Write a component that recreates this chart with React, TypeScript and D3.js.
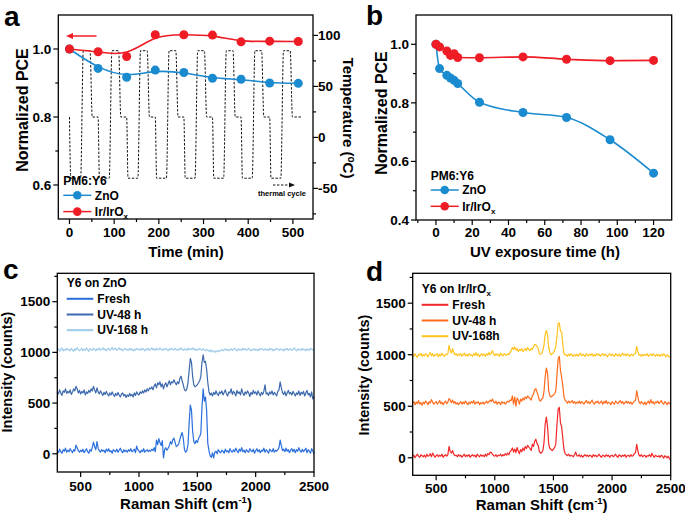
import React from "react";
import * as d3 from "d3";

const FONT = '"Liberation Sans", Arial, Helvetica, sans-serif';
const BLUE = "#1b8bd0";
const RED = "#ee1c25";

// ---------- Panel a ----------
const timeA = [0, 64, 128, 192, 256, 320, 384, 448, 512];
const pceZnOA = [1.0, 0.943, 0.917, 0.938, 0.931, 0.914, 0.911, 0.9, 0.899];
const pceIrA = [1.0, 0.992, 0.978, 1.042, 1.042, 1.041, 1.021, 1.023, 1.022];
const thermalTime = [
  0, 3, 25, 31, 46, 51,
  64, 67, 89, 95, 110, 115,
  128, 131, 153, 159, 174, 179,
  192, 195, 217, 223, 238, 243,
  256, 259, 281, 287, 302, 307,
  320, 323, 345, 351, 366, 371,
  384, 387, 409, 415, 430, 435,
  448, 451, 473, 479, 494, 499,
  518,
];
const thermalTemp = [
  20, -40, -40, 85, 85, 20,
  20, -40, -40, 85, 85, 20,
  20, -40, -40, 85, 85, 20,
  20, -40, -40, 85, 85, 20,
  20, -40, -40, 85, 85, 20,
  20, -40, -40, 85, 85, 20,
  20, -40, -40, 85, 85, 20,
  20, -40, -40, 85, 85, 20,
  20,
];
const ticksAX = [0, 100, 200, 300, 400, 500];
const ticksAY = [0.6, 0.8, 1.0];
const ticksAT = [-50, 0, 50, 100];

// ---------- Panel b ----------
const timeB = [0, 2, 6, 8, 10, 12, 24, 48, 72, 96, 120];
const pceZnOB = [1.0, 0.917, 0.894, 0.885, 0.877, 0.866, 0.802, 0.767, 0.75, 0.674, 0.56];
const pceIrB = [1.0, 0.991, 0.977, 0.962, 0.968, 0.955, 0.954, 0.957, 0.949, 0.944, 0.945];
const ticksBX = [0, 20, 40, 60, 80, 100, 120];
const ticksBY = [0.4, 0.6, 0.8, 1.0];

// ---------- Panels c, d (Raman, sampled every 10 cm-1 from 300 to 2500) ----------
const ramanShift = d3.range(300, 2501, 10);
const ticksRX = [500, 1000, 1500, 2000, 2500];
const ticksRY = [0, 500, 1000, 1500];

const cFresh = [
  30, 10, 45, 20, 5, 40, 25, 55, 15, 35,
  20, 50, 30, 10, 40, 25, 85, 60, 30, 15,
  35, 20, 45, 10, 30, 50, 20, 5, 40, 25,
  60, 115, 70, 40, 120, 55, 30, 15, 40, 25,
  35, 10, 45, 25, 50, 20, 30, 5, 40, 30,
  20, 45, 15, 35, 55, 25, 10, 40, 20, 35,
  15, 40, 25, 50, 20, 30, 45, 10, 75, 40,
  25, 10, 35, 20, 50, 15, 30, 40, 20, 35,
  25, 45, 30, 60, 20, 135, 90, 150, 110, 80,
  130, -40, 40, 60, 35, 55, 80, 120, 95, 140,
  155, 110, 70, 80, 95, 140, 180, 210, 150, 40,
  15, 30, 90, 300, 480, 430, 220, 120, 100, 130,
  110, 150, 170, 200, 460, 640, 520, 560, 420, 100,
  30, -20, -35, 10, -40, 15, 25, 0, 40, 20,
  10, 35, 25, 5, 45, 20, 30, 10, 50, 25,
  15, 40, 20, 55, 30, 10, 45, 25, 60, 20,
  35, 10, 40, 25, 15, 50, 30, 20, 45, 5,
  30, 50, 20, 40, 10, 35, 25, 55, 15, 40,
  25, 5, 45, 30, 20, 50, 15, 35, 25, 40,
  60, 135, 80, 30, 45, 20, 55, 25, 40, 10,
  35, 50, 20, 45, 10, 40, 25, 60, 30, 15,
  45, 20, 35, 55, 10, 40, 25, 5, 50, 30,
  0,
];
const cUV48 = [
  610, 590, 630, 600, 575, 620, 605, 640, 595, 615,
  600, 630, 585, 610, 640, 620, 665, 640, 600, 625,
  590, 615, 600, 630, 580, 610, 595, 625, 605, 640,
  620, 665, 630, 600, 650, 610, 590, 620, 600, 575,
  605, 585, 615, 590, 570, 600, 580, 610, 585, 565,
  595, 575, 605, 580, 560, 590, 600, 570, 585, 555,
  580, 565, 595, 570, 585, 560, 600, 575, 610, 590,
  580, 610, 595, 620, 600, 630, 610, 640, 620, 650,
  640, 660, 630, 670, 690, 650, 700, 680, 710, 660,
  690, 640, 680, 700, 660, 690, 720, 680, 710, 700,
  730, 700, 680, 710, 690, 740, 765, 720, 680, 630,
  620, 640, 700, 820, 940, 900, 760, 680, 660, 670,
  680, 700, 720, 760, 900, 975, 900, 910, 830, 700,
  610, 580, 600, 570, 605, 585, 620, 590, 575, 610,
  595, 620, 580, 605, 630, 590, 570, 610, 600, 640,
  585, 615, 600, 570, 625, 595, 610, 580, 640, 600,
  575, 610, 590, 620, 600, 565, 605, 585, 625, 595,
  610, 580, 620, 595, 570, 605, 585, 615, 680, 590,
  600, 575, 610, 590, 620, 580, 605, 590, 570, 615,
  630, 710, 650, 600, 585, 615, 570, 600, 625, 590,
  605, 580, 615, 595, 570, 600, 585, 620, 575, 605,
  590, 615, 570, 600, 625, 580, 595, 560, 610, 540,
  560,
];
const cUV168 = [
  1020, 1035, 1010, 1030, 1045, 1015, 1030, 1020, 1040, 1025,
  1030, 1015, 1040, 1025, 1010, 1035, 1020, 1045, 1030, 1015,
  1025, 1040, 1015, 1030, 1020, 1045, 1025, 1010, 1035, 1030,
  1020, 1040, 1030, 1015, 1035, 1025, 1040, 1020, 1030, 1045,
  1025, 1035, 1015, 1030, 1040, 1020, 1030, 1050, 1025, 1035,
  1040, 1020, 1030, 1045, 1025, 1035, 1015, 1030, 1040, 1025,
  1030, 1020, 1040, 1025, 1035, 1015, 1030, 1020, 1040, 1030,
  1025, 1035, 1020, 1040, 1030, 1015, 1035, 1025, 1040, 1020,
  1030, 1045, 1025, 1035, 1020, 1040, 1030, 1025, 1045, 1030,
  1020, 1035, 1025, 1040, 1030, 1015, 1035, 1025, 1040, 1030,
  1025, 1040, 1030, 1020, 1035, 1025, 1045, 1030, 1020, 1035,
  1030, 1020, 1040, 1025, 1035, 1030, 1045, 1025, 1035, 1020,
  1030, 1025, 1040, 1030, 1020, 1035, 1025, 1015, 1030, 1020,
  1010, 1025, 1005, 1020, 1010, 1000, 1015, 1005, 1020, 1010,
  1020, 1030, 1015, 1025, 1035, 1020, 1030, 1015, 1025, 1035,
  1020, 1030, 1040, 1025, 1015, 1035, 1025, 1030, 1020, 1040,
  1025, 1035, 1020, 1030, 1040, 1025, 1015, 1030, 1025, 1035,
  1020, 1030, 1015, 1035, 1025, 1040, 1030, 1020, 1035, 1025,
  1030, 1020, 1040, 1025, 1035, 1015, 1030, 1025, 1040, 1030,
  1020, 1035, 1025, 1030, 1015, 1035, 1025, 1040, 1020, 1030,
  1035, 1020, 1030, 1045, 1025, 1015, 1035, 1025, 1030, 1020,
  1040, 1025, 1030, 1015, 1035, 1025, 1020, 1040, 1030, 1025,
  1030,
];
const dFresh = [
  10, 25, 0, 20, 35, 15, 5, 30, 20, 10,
  25, 5, 35, 15, 20, 40, 10, 45, 25, 5,
  20, 30, 10, 25, 15, 35, 5, 20, 30, 15,
  30, 110, 60, 45, 70, 35, 20, 25, 10, 30,
  15, 25, 5, 20, 35, 10, 25, 15, 30, 5,
  20, 30, 15, 25, 5, 35, 20, 10, 30, 15,
  25, 10, 35, 15, 40, 30, 55, 50, 35, 20,
  15, 30, 10, 25, 20, 35, 15, 30, 20, 40,
  25, 45, 30, 60, 70, 95, 55, 85, 50, 100,
  65, 40, 80, 60, 95, 70, 110, 90, 120, 105,
  90, 70, 130, 110, 160, 180, 140, 120, 60, 45,
  50, 70, 150, 330, 395, 300, 130, 90, 80, 70,
  85, 100, 130, 320, 470, 490, 340, 300, 190, 80,
  40, 30, 20, 35, 15, 25, 20, 10, 30, 55,
  20, 15, 30, 10, 25, 5, 20, 30, 15, 25,
  10, 25, 20, 5, 30, 15, 25, 10, 20, 35,
  15, 5, 25, 20, 10, 30, 15, 25, 5, 20,
  25, 10, 20, 35, 15, 5, 30, 20, 10, 25,
  15, 30, 5, 20, 25, 10, 30, 15, 20, 40,
  50, 130, 70, 25, 15, 30, 10, 20, 25, 5,
  20, 15, 30, 10, 45, 20, 5, 25, 15, 10,
  20, 5, 25, 15, -5, 20, 10, 0, 15, -10,
  -25,
];
const dUV48 = [
  530, 545, 515, 540, 525, 555, 520, 535, 510, 540,
  525, 550, 535, 515, 545, 530, 565, 540, 520, 535,
  545, 520, 535, 555, 525, 540, 515, 535, 550, 525,
  540, 575, 560, 535, 560, 530, 545, 520, 535, 515,
  530, 545, 520, 540, 525, 550, 530, 515, 540, 525,
  545, 530, 555, 520, 540, 530, 545, 515, 535, 525,
  540, 520, 535, 550, 530, 545, 560, 545, 570, 540,
  530, 550, 520, 540, 535, 515, 545, 530, 540, 520,
  535, 550, 540, 560, 555, 600, 520, 590, 500, 580,
  560, 520, 570, 550, 580, 560, 590, 575, 600, 585,
  575, 560, 600, 620, 660, 670, 640, 600, 560, 550,
  570, 580, 650, 790, 870, 820, 650, 600, 590, 600,
  610, 620, 650, 800, 960, 985, 850, 780, 700, 590,
  560, 545, 530, 550, 535, 540, 555, 530, 545, 525,
  540, 530, 550, 525, 545, 535, 520, 540, 555, 530,
  545, 525, 540, 560, 530, 520, 545, 535, 550, 525,
  535, 550, 520, 545, 530, 555, 525, 540, 530, 515,
  545, 530, 520, 550, 535, 525, 540, 555, 530, 545,
  520, 535, 550, 530, 545, 525, 540, 520, 535, 550,
  560, 650, 590, 540, 525, 545, 530, 520, 540, 515,
  535, 550, 525, 565, 530, 545, 520, 540, 535, 550,
  525, 540, 555, 530, 520, 545, 535, 515, 540, 525,
  530,
];
const dUV168 = [
  1000, 985, 1010, 990, 975, 1005, 995, 1015, 985, 1000,
  990, 1010, 995, 980, 1005, 1020, 990, 1010, 985, 1000,
  995, 1010, 980, 1005, 990, 1015, 995, 985, 1005, 1000,
  1010, 1090, 1040, 1015, 1060, 1020, 1000, 1010, 990, 1005,
  995, 1010, 985, 1000, 1015, 990, 1005, 985, 1010, 995,
  1000, 985, 1010, 995, 1020, 990, 1005, 980, 1000, 1010,
  990, 1005, 985, 1010, 995, 1020, 1000, 1015, 1040, 1005,
  990, 1010, 995, 1005, 985, 1015, 1000, 990, 1010, 1000,
  995, 1010, 1000, 1020, 1040, 1070, 1050, 1075, 1045, 1060,
  1030, 1050, 1040, 1060, 1030, 1045, 1060, 1040, 1070, 1050,
  1040, 1060, 1050, 1080, 1100, 1095, 1080, 1060, 1010, 1005,
  1010, 1040, 1100, 1200, 1235, 1190, 1070, 1020, 1000, 1010,
  1020, 1040, 1080, 1180, 1300, 1310, 1230, 1220, 1100, 1010,
  995, 1000, 985, 1005, 990, 1010, 995, 985, 1000, 990,
  1005, 985, 1000, 1015, 990, 1005, 995, 985, 1010, 1000,
  990, 1005, 995, 1010, 985, 1000, 990, 1010, 995, 1005,
  985, 1000, 1010, 990, 1005, 995, 980, 1000, 1010, 990,
  1005, 995, 985, 1010, 1000, 990, 1005, 985, 1000, 1015,
  995, 1005, 990, 1010, 995, 985, 1005, 1000, 990, 1010,
  1015, 1080, 1030, 995, 1000, 985, 1005, 990, 1000, 995,
  1010, 985, 1000, 1005, 990, 1010, 995, 985, 1005, 990,
  1000, 985, 1005, 990, 1010, 995, 980, 1000, 990, 975,
  985,
];

const cLabels = ["Fresh", "UV-48 h", "UV-168 h"];
const cColors = ["#2a6fdc", "#3c68ad", "#9dcbe9"];
const dLabels = ["Fresh", "UV-48 h", "UV-168h"];
const dColors = ["#f3282a", "#ff6b1c", "#ffc31c"];

const TICK_FS = 13.5;
const TITLE_FS = 15;

type Scale = d3.ScaleLinear<number, number>;

function BottomAxis({ scale, y, major, minor, fmt, dy = 18 }: { scale: Scale; y: number; major: number[]; minor: number[]; fmt: (v: number) => string; dy?: number }) {
  return (
    <g>
      {minor.map((v) => (
        <line key={"m" + v} x1={scale(v)} x2={scale(v)} y1={y} y2={y + 3} stroke="#000" strokeWidth={1.2} />
      ))}
      {major.map((v) => (
        <g key={"M" + v}>
          <line x1={scale(v)} x2={scale(v)} y1={y} y2={y + 5} stroke="#000" strokeWidth={1.2} />
          <text x={scale(v)} y={y + dy} textAnchor="middle" fontSize={TICK_FS} fontWeight="bold">
            {fmt(v)}
          </text>
        </g>
      ))}
    </g>
  );
}

function LeftAxis({ scale, x, major, minor, fmt }: { scale: Scale; x: number; major: number[]; minor: number[]; fmt: (v: number) => string }) {
  return (
    <g>
      {minor.map((v) => (
        <line key={"m" + v} x1={x - 3} x2={x} y1={scale(v)} y2={scale(v)} stroke="#000" strokeWidth={1.2} />
      ))}
      {major.map((v) => (
        <g key={"M" + v}>
          <line x1={x - 5} x2={x} y1={scale(v)} y2={scale(v)} stroke="#000" strokeWidth={1.2} />
          <text x={x - 7} y={scale(v) + 4.8} textAnchor="end" fontSize={TICK_FS} fontWeight="bold">
            {fmt(v)}
          </text>
        </g>
      ))}
    </g>
  );
}

function RightAxis({ scale, x, major, minor, fmt }: { scale: Scale; x: number; major: number[]; minor: number[]; fmt: (v: number) => string }) {
  return (
    <g>
      {minor.map((v) => (
        <line key={"m" + v} x1={x} x2={x + 3} y1={scale(v)} y2={scale(v)} stroke="#000" strokeWidth={1.2} />
      ))}
      {major.map((v) => (
        <g key={"M" + v}>
          <line x1={x} x2={x + 5} y1={scale(v)} y2={scale(v)} stroke="#000" strokeWidth={1.2} />
          <text x={x + 5} y={scale(v) + 4.8} textAnchor="start" fontSize={TICK_FS} fontWeight="bold">
            {fmt(v)}
          </text>
        </g>
      ))}
    </g>
  );
}

function Frame({ x0, x1, y0, y1 }: { x0: number; x1: number; y0: number; y1: number }) {
  return <rect x={x0} y={y0} width={x1 - x0} height={y1 - y0} fill="none" stroke="#000" strokeWidth={1.3} />;
}

function PceLegend({ x, y0 }: { x: number; y0: number }) {
  const rows = [
    { c: BLUE, label: <tspan>ZnO</tspan> },
    {
      c: RED,
      label: (
        <>
          <tspan>Ir/IrO</tspan>
          <tspan fontSize={8} dy={3}>x</tspan>
        </>
      ),
    },
  ];
  return (
    <g fontWeight="bold" fontSize={12}>
      <text x={x} y={y0}>PM6:Y6</text>
      {rows.map((r, i) => {
        const cy = y0 + 10 + i * 16.3;
        return (
          <g key={i}>
            <line x1={x} x2={x + 28} y1={cy} y2={cy} stroke={r.c} strokeWidth={1.5} />
            <circle cx={x + 14} cy={cy} r={4.3} fill={r.c} />
            <text x={x + 31.5} y={cy + 4.3}>{r.label}</text>
          </g>
        );
      })}
    </g>
  );
}

function RamanLegend({ x, y0, title, labels, colors }: { x: number; y0: number; title: React.ReactNode; labels: string[]; colors: string[] }) {
  return (
    <g fontWeight="bold" fontSize={12}>
      <text x={x} y={y0}>{title}</text>
      {labels.map((l, i) => {
        const cy = y0 + 11.5 + i * 15.7;
        return (
          <g key={l}>
            <line x1={x} x2={x + 26.6} y1={cy} y2={cy} stroke={colors[i]} strokeWidth={2} />
            <text x={x + 30.6} y={cy + 4.2}>{l}</text>
          </g>
        );
      })}
    </g>
  );
}

export default function App() {
  const axX = d3.scaleLinear().domain([-25, 545]).range([58.3, 313]);
  const axY = d3.scaleLinear().domain([0.5, 1.1]).range([219, 15]);
  const axT = d3.scaleLinear().domain([-80, 120]).range([219, 15]);
  const lineA = (vals: number[]) =>
    d3
      .line<number>()
      .x((_, i) => axX(timeA[i]))
      .y((v) => axY(v))
      .curve(d3.curveBasis)(vals) as string;
  const thermalPath = d3
    .line<number>()
    .x((_, i) => axX(thermalTime[i]))
    .y((v) => axT(v))
    .curve(d3.curveMonotoneX)(thermalTemp) as string;

  const bxX = d3.scaleLinear().domain([-11, 130]).range([416, 671.7]);
  const bxY = d3.scaleLinear().domain([0.4, 1.1]).range([220, 15]);
  const lineB = (vals: number[]) =>
    d3
      .line<number>()
      .x((_, i) => bxX(timeB[i]))
      .y((v) => bxY(v))
      .curve(d3.curveMonotoneX)(vals) as string;

  const cxX = d3.scaleLinear().domain([300, 2500]).range([57.3, 314]);
  const cxY = d3.scaleLinear().domain([-180, 1780]).range([472, 273.3]);
  const dxX = d3.scaleLinear().domain([300, 2500]).range([412.7, 670.7]);
  const dxY = d3.scaleLinear().domain([-170, 1790]).range([475.3, 273.3]);
  const spec = (sx: Scale, sy: Scale, vals: number[]) =>
    d3
      .line<number>()
      .x((_, i) => sx(ramanShift[i]))
      .y((v) => sy(v))(vals) as string;

  const fmt1 = (v: number) => v.toFixed(1);
  const fmt0 = (v: number) => String(v);

  return (
    <svg
      width={685}
      height={521}
      viewBox="0 0 685 521"
      style={{ position: "absolute", left: 0, top: 0, background: "#fff" }}
      fontFamily={FONT}
    >
      <rect x={0} y={0} width={685} height={521} fill="#fff" />

      {/* ================= Panel a ================= */}
      <text x={4} y={25.5} fontSize={28} fontWeight="bold">a</text>
      <path d={thermalPath} fill="none" stroke="#111" strokeWidth={1} strokeDasharray="2.4,1.6" />
      <path d={lineA(pceZnOA)} fill="none" stroke={BLUE} strokeWidth={1.6} />
      <path d={lineA(pceIrA)} fill="none" stroke={RED} strokeWidth={1.6} />
      {timeA.map((t, i) => (
        <circle key={"az" + i} cx={axX(t)} cy={axY(pceZnOA[i])} r={4.5} fill={BLUE} />
      ))}
      {timeA.map((t, i) => (
        <circle key={"ai" + i} cx={axX(t)} cy={axY(pceIrA[i])} r={4.5} fill={RED} />
      ))}
      <line x1={71} x2={96.5} y1={36} y2={36} stroke={RED} strokeWidth={1.5} />
      <polygon points="66,36 73,33 73,39" fill={RED} />
      <line x1={273} x2={289} y1={185} y2={185} stroke="#111" strokeWidth={1} strokeDasharray="2.4,1.6" />
      <polygon points="295,185 289,182.5 289,187.5" fill="#111" />
      <text x={282} y={195.5} textAnchor="middle" fontSize={7.5} fontWeight="bold">thermal cycle</text>
      <PceLegend x={63.3} y0={185.3} />
      <Frame x0={58.3} x1={313} y0={15} y1={219} />
      <BottomAxis scale={axX} y={219} major={ticksAX} minor={[50, 150, 250, 350, 450]} fmt={fmt0} />
      <LeftAxis scale={axY} x={58.3} major={ticksAY} minor={[0.7, 0.9]} fmt={fmt1} />
      <RightAxis scale={axT} x={313} major={ticksAT} minor={[-75, -25, 25, 75]} fmt={fmt0} />
      <text x={186} y={257} textAnchor="middle" fontSize={TITLE_FS} fontWeight="bold">Time (min)</text>
      <text transform="translate(28.3,110) rotate(-90)" textAnchor="middle" fontSize={16} fontWeight="bold">
        Normalized PCE
      </text>
      <text transform="translate(342.5,118) rotate(90)" textAnchor="middle" fontSize={TITLE_FS} fontWeight="bold">
        <tspan>Temperature (</tspan>
        <tspan fontSize={10} dy={-5}>o</tspan>
        <tspan dy={5}>C)</tspan>
      </text>

      {/* ================= Panel b ================= */}
      <text x={366} y={25} fontSize={28} fontWeight="bold">b</text>
      <path d={lineB(pceZnOB)} fill="none" stroke={BLUE} strokeWidth={1.6} />
      <path d={lineB(pceIrB)} fill="none" stroke={RED} strokeWidth={1.6} />
      {timeB.map((t, i) => (
        <circle key={"bz" + i} cx={bxX(t)} cy={bxY(pceZnOB[i])} r={4.5} fill={BLUE} />
      ))}
      {timeB.map((t, i) => (
        <circle key={"bi" + i} cx={bxX(t)} cy={bxY(pceIrB[i])} r={4.5} fill={RED} />
      ))}
      <PceLegend x={430.7} y0={180} />
      <Frame x0={416} x1={671.7} y0={15} y1={220} />
      <BottomAxis scale={bxX} y={220} major={ticksBX} minor={[-10, 10, 30, 50, 70, 90, 110]} fmt={fmt0} dy={17} />
      <LeftAxis scale={bxY} x={416} major={ticksBY} minor={[0.5, 0.7, 0.9]} fmt={fmt1} />
      <text x={545} y={257} textAnchor="middle" fontSize={TITLE_FS} fontWeight="bold">UV exposure time (h)</text>
      <text transform="translate(386.5,113) rotate(-90)" textAnchor="middle" fontSize={16} fontWeight="bold">
        Normalized PCE
      </text>

      {/* ================= Panel c ================= */}
      <text x={3} y={279} fontSize={28} fontWeight="bold">c</text>
      <path d={spec(cxX, cxY, cUV168)} fill="none" stroke={cColors[2]} strokeWidth={1.2} strokeLinejoin="round" />
      <path d={spec(cxX, cxY, cUV48)} fill="none" stroke={cColors[1]} strokeWidth={1.2} strokeLinejoin="round" />
      <path d={spec(cxX, cxY, cFresh)} fill="none" stroke={cColors[0]} strokeWidth={1.2} strokeLinejoin="round" />
      <RamanLegend x={66.7} y0={287.3} title="Y6 on ZnO" labels={cLabels} colors={cColors} />
      <Frame x0={57.3} x1={314} y0={273.3} y1={472} />
      <BottomAxis scale={cxX} y={472} major={ticksRX} minor={[750, 1250, 1750, 2250]} fmt={fmt0} dy={19} />
      <LeftAxis scale={cxY} x={57.3} major={ticksRY} minor={[250, 750, 1250, 1750]} fmt={fmt0} />
      <text x={186} y={509} textAnchor="middle" fontSize={TITLE_FS} fontWeight="bold">
        <tspan>Raman Shift (cm</tspan>
        <tspan fontSize={9.5} dy={-6}>-1</tspan>
        <tspan dy={6}>)</tspan>
      </text>
      <text transform="translate(12.3,372) rotate(-90)" textAnchor="middle" fontSize={14.5} fontWeight="bold">
        Intensity (counts)
      </text>

      {/* ================= Panel d ================= */}
      <text x={366} y={281} fontSize={28} fontWeight="bold">d</text>
      <path d={spec(dxX, dxY, dUV168)} fill="none" stroke={dColors[2]} strokeWidth={1.2} strokeLinejoin="round" />
      <path d={spec(dxX, dxY, dUV48)} fill="none" stroke={dColors[1]} strokeWidth={1.2} strokeLinejoin="round" />
      <path d={spec(dxX, dxY, dFresh)} fill="none" stroke={dColors[0]} strokeWidth={1.2} strokeLinejoin="round" />
      <RamanLegend
        x={421.7}
        y0={293.3}
        title={
          <>
            <tspan>Y6 on Ir/IrO</tspan>
            <tspan fontSize={8} dy={3}>x</tspan>
          </>
        }
        labels={dLabels}
        colors={dColors}
      />
      <Frame x0={412.7} x1={670.7} y0={273.3} y1={475.3} />
      <BottomAxis scale={dxX} y={475.3} major={ticksRX} minor={[750, 1250, 1750, 2250]} fmt={fmt0} dy={17.5} />
      <LeftAxis scale={dxY} x={412.7} major={ticksRY} minor={[250, 750, 1250, 1750]} fmt={fmt0} />
      <text x={541.7} y={509.5} textAnchor="middle" fontSize={TITLE_FS} fontWeight="bold">
        <tspan>Raman Shift (cm</tspan>
        <tspan fontSize={9.5} dy={-6}>-1</tspan>
        <tspan dy={6}>)</tspan>
      </text>
      <text transform="translate(368.5,375) rotate(-90)" textAnchor="middle" fontSize={14.5} fontWeight="bold">
        Intensity (counts)
      </text>
    </svg>
  );
}
